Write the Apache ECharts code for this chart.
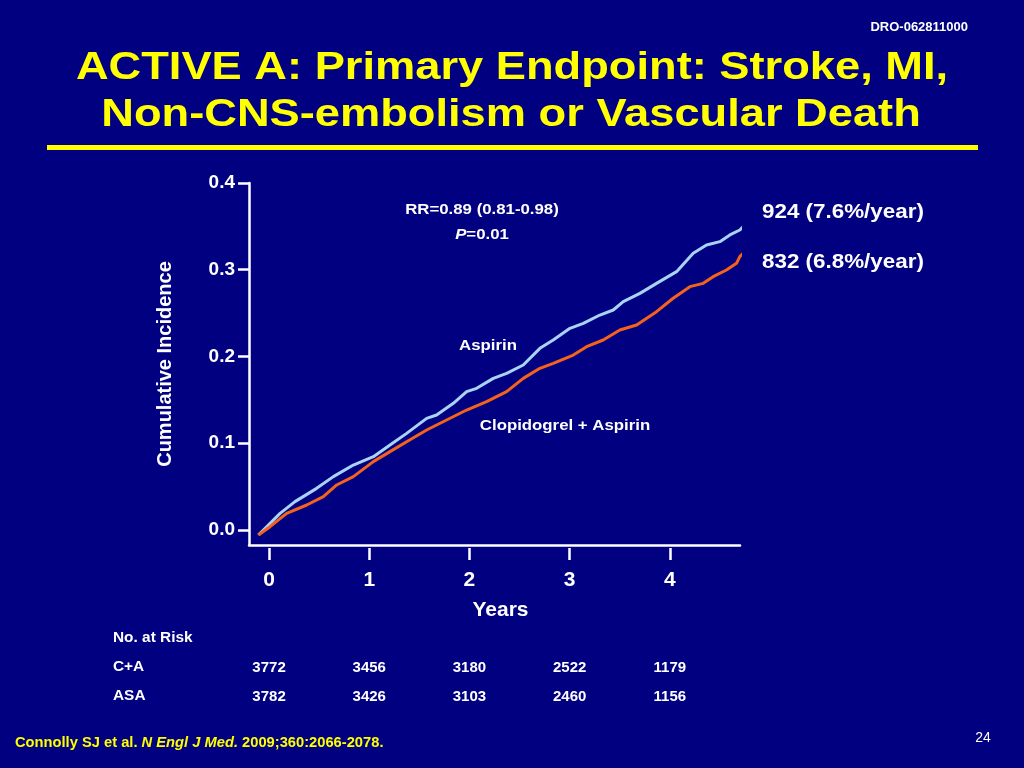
<!DOCTYPE html>
<html>
<head>
<meta charset="utf-8">
<script src="https://cdn.jsdelivr.net/npm/echarts@6/dist/echarts.min.js"></script>
<style>
html,body{margin:0;padding:0;background:#000080;}
#chart{width:1024px;height:768px;}
</style>
</head>
<body>
<div id="chart"></div>
<script>
// ---- data ----
const aspirinYears = [-0.106, 0.110, 0.259, 0.475, 0.642, 0.841, 1.041, 1.207, 1.373, 1.573, 1.672, 1.839, 1.972, 2.072, 2.238, 2.371, 2.537, 2.703, 2.836, 3.003, 3.136, 3.302, 3.435, 3.535, 3.701, 3.867, 4.067, 4.233, 4.366, 4.499, 4.599, 4.698, 4.748];
const aspirinInc = [-0.0058, 0.0192, 0.0327, 0.0480, 0.0615, 0.0749, 0.0845, 0.0980, 0.1114, 0.1287, 0.1326, 0.1460, 0.1595, 0.1633, 0.1748, 0.1806, 0.1902, 0.2094, 0.2190, 0.2325, 0.2382, 0.2478, 0.2536, 0.2632, 0.2728, 0.2843, 0.2978, 0.3189, 0.3285, 0.3324, 0.3401, 0.3458, 0.3516];
const clopYears = [-0.106, 0.010, 0.176, 0.376, 0.542, 0.675, 0.841, 1.041, 1.207, 1.373, 1.573, 1.772, 1.972, 2.171, 2.371, 2.537, 2.703, 2.836, 3.036, 3.169, 3.335, 3.501, 3.668, 3.867, 4.033, 4.200, 4.333, 4.432, 4.565, 4.665, 4.698, 4.748];
const clopInc = [-0.0058, 0.0038, 0.0192, 0.0288, 0.0384, 0.0519, 0.0615, 0.0788, 0.0903, 0.1018, 0.1153, 0.1268, 0.1383, 0.1479, 0.1595, 0.1748, 0.1864, 0.1921, 0.2017, 0.2113, 0.2190, 0.2305, 0.2363, 0.2517, 0.2671, 0.2805, 0.2843, 0.2920, 0.2997, 0.3074, 0.3151, 0.3209];
const xTicks = [0, 1, 2, 3, 4];
const yTicks = [0, 0.1, 0.2, 0.3, 0.4];
const riskCA = [3772, 3456, 3180, 2522, 1179];
const riskASA = [3782, 3426, 3103, 2460, 1156];

const FONT = '"Liberation Sans", Arial, Helvetica, sans-serif';
const zip = (xs, ys) => xs.map((x, i) => [x, ys[i]]);
const riskAxis = (vals, offset) => ({
  type: 'value', min: -0.2, max: 4.70, position: 'bottom', offset: offset,
  axisLine: {show: false, onZero: false}, axisTick: {show: false}, splitLine: {show: false},
  axisLabel: {
    customValues: xTicks, margin: 0, color: '#fff', fontFamily: FONT,
    fontSize: 15, fontWeight: 'bold',
    formatter: v => String(vals[xTicks.indexOf(Math.round(v))])
  }
});

const chart = echarts.init(document.getElementById('chart'));
chart.setOption({
  backgroundColor: '#000080',
  animation: false,
  grid: {left: 249, right: 284, top: 183, bottom: 223, containLabel: false},
  xAxis: [
    {
      type: 'value', min: -0.2, max: 4.70, position: 'bottom',
      axisLine: {show: true, onZero: false, lineStyle: {color: '#fff', width: 2.5}},
      axisTick: {show: false}, axisLabel: {show: false}, splitLine: {show: false}
    },
    {
      type: 'value', min: -0.2, max: 4.70, position: 'bottom', offset: 3,
      axisLine: {show: false, onZero: false}, splitLine: {show: false},
      axisTick: {show: true, customValues: xTicks, length: 12, lineStyle: {color: '#fff', width: 2.5}},
      axisLabel: {customValues: xTicks, margin: 22, color: '#fff', fontFamily: FONT, fontSize: 21, fontWeight: 'bold',
        formatter: v => String(Math.round(v))},
      name: 'Years', nameLocation: 'middle', nameGap: 52,
      nameTextStyle: {color: '#fff', fontFamily: FONT, fontSize: 21, fontWeight: 'bold', padding: [0, 0, 0, 12]}
    },
    riskAxis(riskCA, 115),
    riskAxis(riskASA, 144)
  ],
  yAxis: {
    type: 'value', min: -0.0173, max: 0.4,
    axisLine: {show: true, onZero: false, lineStyle: {color: '#fff', width: 2.5}},
    axisTick: {show: true, customValues: yTicks, length: 11, lineStyle: {color: '#fff', width: 2.5}},
    axisLabel: {customValues: yTicks, margin: 14, color: '#fff', fontFamily: FONT, fontSize: 19, fontWeight: 'bold',
      formatter: v => v.toFixed(1)},
    splitLine: {show: false},
    name: 'Cumulative Incidence', nameLocation: 'middle', nameGap: 74, nameRotate: 90,
    nameTextStyle: {color: '#fff', fontFamily: FONT, fontSize: 20, fontWeight: 'bold'}
  },
  series: [
    {
      name: 'Aspirin', type: 'line', xAxisIndex: 0, clip: false, showSymbol: false, symbol: 'none',
      lineStyle: {color: '#a9d3f5', width: 3}, data: zip(aspirinYears, aspirinInc)
    },
    {
      name: 'Clopidogrel + Aspirin', type: 'line', xAxisIndex: 0, clip: false, showSymbol: false, symbol: 'none',
      lineStyle: {color: '#f6621c', width: 3}, data: zip(clopYears, clopInc)
    }
  ],
  graphic: [
    {type: 'text', x: 968, y: 27, style: {text: 'DRO-062811000', fill: '#fff', font: 'bold 13px ' + FONT, textAlign: 'right', textVerticalAlign: 'middle'}},
    {type: 'text', x: 512, y: 68, scaleX: 1.16, style: {text: 'ACTIVE A: Primary Endpoint: Stroke, MI,', fill: '#ffff00', font: 'bold 39px ' + FONT, textAlign: 'center', textVerticalAlign: 'middle'}},
    {type: 'text', x: 511, y: 115, scaleX: 1.16, style: {text: 'Non-CNS-embolism or Vascular Death', fill: '#ffff00', font: 'bold 39px ' + FONT, textAlign: 'center', textVerticalAlign: 'middle'}},
    {type: 'rect', shape: {x: 47, y: 145, width: 931, height: 5}, style: {fill: '#ffff00'}},
    {type: 'text', x: 482, y: 210, scaleX: 1.12, style: {text: 'RR=0.89 (0.81-0.98)', fill: '#fff', font: 'bold 15px ' + FONT, textAlign: 'center', textVerticalAlign: 'middle'}},
    {type: 'text', x: 482, y: 235, scaleX: 1.12, style: {text: '{i|P}=0.01', fill: '#fff', font: 'bold 15px ' + FONT, textAlign: 'center', textVerticalAlign: 'middle',
      rich: {i: {fontStyle: 'italic', fontWeight: 'bold', fontSize: 15, fontFamily: FONT, fill: '#fff'}}}},
    {type: 'text', x: 762, y: 212, scaleX: 1.12, style: {text: '924 (7.6%/year)', fill: '#fff', font: 'bold 20px ' + FONT, textAlign: 'left', textVerticalAlign: 'middle'}},
    {type: 'text', x: 762, y: 262, scaleX: 1.12, style: {text: '832 (6.8%/year)', fill: '#fff', font: 'bold 20px ' + FONT, textAlign: 'left', textVerticalAlign: 'middle'}},
    {type: 'text', x: 488, y: 346, scaleX: 1.12, style: {text: 'Aspirin', fill: '#fff', font: 'bold 15px ' + FONT, textAlign: 'center', textVerticalAlign: 'middle'}},
    {type: 'text', x: 565, y: 426, scaleX: 1.12, style: {text: 'Clopidogrel + Aspirin', fill: '#fff', font: 'bold 15px ' + FONT, textAlign: 'center', textVerticalAlign: 'middle'}},
    {type: 'text', x: 113, y: 638, scaleX: 1.1, style: {text: 'No. at Risk', fill: '#fff', font: 'bold 14px ' + FONT, textAlign: 'left', textVerticalAlign: 'middle'}},
    {type: 'text', x: 113, y: 667, scaleX: 1.1, style: {text: 'C+A', fill: '#fff', font: 'bold 14px ' + FONT, textAlign: 'left', textVerticalAlign: 'middle'}},
    {type: 'text', x: 113, y: 696, scaleX: 1.1, style: {text: 'ASA', fill: '#fff', font: 'bold 14px ' + FONT, textAlign: 'left', textVerticalAlign: 'middle'}},
    {type: 'text', x: 15, y: 743, scaleX: 1.05, style: {text: 'Connolly SJ et al. {i|N Engl J Med.} 2009;360:2066-2078.', fill: '#ffff00', font: 'bold 14px ' + FONT, textAlign: 'left', textVerticalAlign: 'middle',
      rich: {i: {fontStyle: 'italic', fontWeight: 'bold', fontSize: 14, fontFamily: FONT, fill: '#ffff00'}}}},
    {type: 'text', x: 983, y: 738, style: {text: '24', fill: '#fff', font: '14px ' + FONT, textAlign: 'center', textVerticalAlign: 'middle'}}
  ]
});
</script>
</body>
</html>
